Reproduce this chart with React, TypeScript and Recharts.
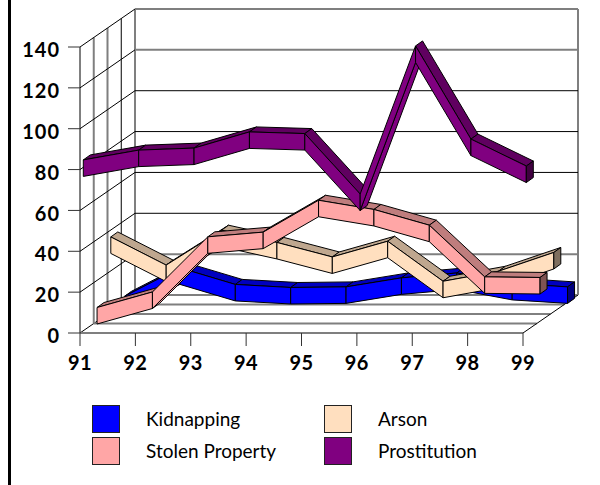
import { CartesianGrid, Legend, Line, LineChart, XAxis, YAxis } from 'recharts';

const years = ['91', '92', '93', '94', '95', '96', '97', '98', '99'];
const kidnapping = [2.9, 16.8, 8.7, 7.2, 7.5, 11.9, 14.3, 9.2, 7.5];
const arson = [36.6, 22.8, 39.9, 33.9, 26.8, 34.5, 14.9, 19.8, 29];
const stolenProperty = [6.7, 14.3, 41.3, 43.6, 59.2, 54.7, 47, 21.7, 21.4];
const prostitution = [83.6, 88.4, 89.4, 97.3, 96.5, 66.9, 139.4, 93.8, 80.6];
const yTicks = [0, 20, 40, 60, 80, 100, 120, 140];
const legendOrder = ['Kidnapping', 'Stolen Property', 'Arson', 'Prostitution'];

const data = years.map((year, i) => ({
  year,
  kidnapping: kidnapping[i],
  arson: arson[i],
  stolenProperty: stolenProperty[i],
  prostitution: prostitution[i],
}));

// 3d look: the box depth, and one ribbon per depth slot
const BOX_DX = 55;
const BOX_DY = -38;
const SLOTS = 4;
const RIBBON_DX = 7;
const RIBBON_DY = -5;
const RIBBON_H = 16.5;
const FONT = 'Lato, sans-serif';

const thin = { stroke: '#000', strokeWidth: 1, fill: 'none' };
const thick = { stroke: '#7f7f7f', strokeWidth: 2, fill: 'none' };

type Pt = { x: number; y: number };

function Face({ pts, fill }: { pts: Pt[]; fill: string }) {
  return (
    <polygon
      points={pts.map((p) => `${p.x},${p.y}`).join(' ')}
      fill={fill}
      stroke="#000"
      strokeWidth={1}
      strokeLinejoin="round"
    />
  );
}

function Ribbon({ points, slot, front, top, side }: any) {
  const ox = 3.3 + slot * (BOX_DX / SLOTS);
  const oy = -2.3 + slot * (BOX_DY / SLOTS);
  const pts: Pt[] = points.map((p: any) => ({ x: p.x + ox, y: p.y + oy }));
  const back = (p: Pt) => ({ x: p.x + RIBBON_DX, y: p.y + RIBBON_DY });
  const low = (p: Pt) => ({ x: p.x, y: p.y + RIBBON_H });
  const last = pts[pts.length - 1];
  return (
    <g>
      {pts.slice(0, -1).map((a, i) => {
        const b = pts[i + 1];
        const rise = (a.y - b.y) / (b.x - a.x);
        const steep = rise > -RIBBON_DY / RIBBON_DX;
        return (
          <g key={i}>
            {steep ? (
              <Face pts={[low(a), low(b), back(low(b)), back(low(a))]} fill={front} />
            ) : (
              <Face pts={[a, b, back(b), back(a)]} fill={top} />
            )}
            <Face pts={[a, b, low(b), low(a)]} fill={front} />
          </g>
        );
      })}
      <Face pts={[last, back(last), back(low(last)), low(last)]} fill={side} />
    </g>
  );
}

const ribbonDot = (slot: number, front: string, top: string, side: string) => (props: any) =>
  props.index === 0 ? (
    <Ribbon key="ribbon" points={props.points} slot={slot} front={front} top={top} side={side} />
  ) : (
    <g key={props.index} />
  );

// back wall, left wall and floor hang off the horizontal grid lines
function WallLine(props: any) {
  const { x, y, width, height, y1, index } = props;
  const isFloor = Math.abs(y1 - (y + height)) < 1;
  // the lowest two and highest two back lines come out grey in the original
  const level = Math.round((1 - (y1 - y) / height) * 7);
  const backStyle = level <= 1 || level >= 6 ? thick : thin;
  return (
    <g key={index}>
      <line x1={x} y1={y1} x2={x + BOX_DX} y2={y1 + BOX_DY} {...thin} />
      <line x1={x + BOX_DX} y1={y1 + BOX_DY} x2={x + width + BOX_DX} y2={y1 + BOX_DY} {...backStyle} />
      {isFloor && (
        <g>
          {[1, 2, 3].map((k) => (
            <line
              key={k}
              x1={x + (k * BOX_DX) / SLOTS}
              y1={y1 + (k * BOX_DY) / SLOTS}
              x2={x + width + (k * BOX_DX) / SLOTS}
              y2={y1 + (k * BOX_DY) / SLOTS}
              {...(k === 2 ? thin : thick)}
            />
          ))}
          {[1, 2, 3, 4].map((k) => (
            <line
              key={k}
              x1={x + (k * BOX_DX) / SLOTS}
              y1={y + (k * BOX_DY) / SLOTS}
              x2={x + (k * BOX_DX) / SLOTS}
              y2={y1 + (k * BOX_DY) / SLOTS}
              {...(k === 3 ? thin : thick)}
            />
          ))}
          <line x1={x + width} y1={y1} x2={x + width + BOX_DX} y2={y1 + BOX_DY} {...thin} />
          <line x1={x + width + BOX_DX} y1={y + BOX_DY} x2={x + width + BOX_DX} y2={y1 + BOX_DY} {...thick} />
        </g>
      )}
    </g>
  );
}

function LegendGrid({ payload }: any) {
  const items = legendOrder.map((name) => (payload || []).find((p: any) => p.value === name)).filter(Boolean);
  return (
    <div style={{ position: 'relative', width: 600, height: 0 }}>
      {items.map((item: any, i: number) => {
        const col = i < 2 ? 0 : 1;
        const row = i % 2;
        const left = col === 0 ? 92 : 324;
        const top = row === 0 ? 405 : 437;
        return (
          <div key={item.value}>
            <div
              style={{
                position: 'absolute',
                left,
                top,
                width: 26,
                height: 26,
                background: item.color,
                border: '1px solid #222',
              }}
            />
            <div
              style={{
                position: 'absolute',
                left: left + 54,
                top: top + 1,
                lineHeight: '26px',
                fontFamily: FONT,
                fontSize: 19,
                color: '#000',
                whiteSpace: 'nowrap',
              }}
            >
              {item.value}
            </div>
          </div>
        );
      })}
    </div>
  );
}

export default function App() {
  return (
    <div style={{ position: 'absolute', left: 0, top: 0, width: 600, height: 485, overflow: 'hidden', background: '#fff' }}>
      <div style={{ position: 'absolute', left: 8, top: 0, width: 3, height: 485, background: '#000' }} />
      <LineChart
        width={600}
        height={485}
        data={data}
        margin={{ top: 47, right: 77, bottom: 112, left: 0 }}
        style={{ position: 'absolute', left: 0, top: 0 }}
      >
        <CartesianGrid horizontal={(p: any) => <WallLine key={p.index} {...p} />} vertical={false} syncWithTicks />
        <XAxis
          dataKey="year"
          height={40}
          axisLine={thick}
          tickLine={{ stroke: '#333' }}
          tickSize={13}
          tickMargin={10}
          interval={0}
          tick={{ fill: '#000', fontSize: 20, fontWeight: 700, fontFamily: FONT, letterSpacing: 0.5 }}
        />
        <YAxis
          width={80}
          domain={[0, 140]}
          ticks={yTicks}
          stroke="#000"
          tickLine={{ stroke: '#333' }}
          tickSize={12}
          tickMargin={8}
          interval={0}
          tick={{ fill: '#000', fontSize: 20, fontWeight: 700, fontFamily: FONT, letterSpacing: 1, dy: 3 }}
        />
        <Legend
          layout="horizontal"
          verticalAlign="middle"
          align="center"
          wrapperStyle={{ left: 0, top: 0, width: 600, height: 0 }}
          content={(p: any) => <LegendGrid {...p} />}
        />
        <Line
          dataKey="kidnapping"
          name="Kidnapping"
          stroke="#0000FF"
          strokeWidth={0}
          isAnimationActive={false}
          dot={ribbonDot(3, '#0000FF', '#0000BF', '#00007F')}
        />
        <Line
          dataKey="arson"
          name="Arson"
          stroke="#FFDFBF"
          strokeWidth={0}
          isAnimationActive={false}
          dot={ribbonDot(2, '#FFDFBF', '#BFA78F', '#7F6F5F')}
        />
        <Line
          dataKey="stolenProperty"
          name="Stolen Property"
          stroke="#FFA6A6"
          strokeWidth={0}
          isAnimationActive={false}
          dot={ribbonDot(1, '#FFA6A6', '#BF7D7D', '#7F5353')}
        />
        <Line
          dataKey="prostitution"
          name="Prostitution"
          stroke="#800080"
          strokeWidth={0}
          isAnimationActive={false}
          dot={ribbonDot(0, '#800080', '#600060', '#400040')}
        />
      </LineChart>
    </div>
  );
}
